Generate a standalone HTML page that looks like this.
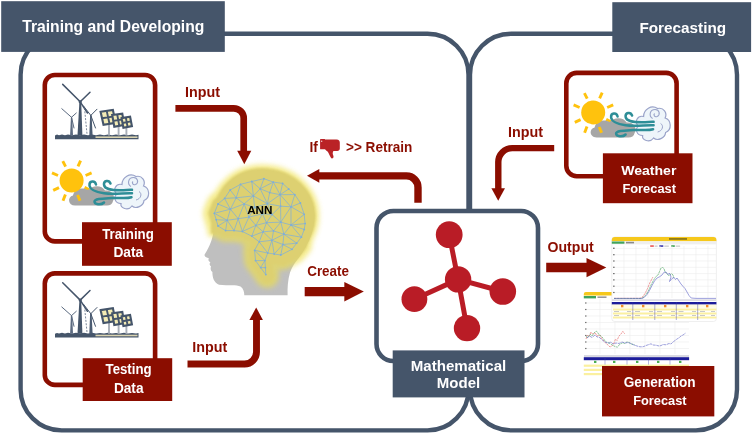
<!DOCTYPE html>
<html><head><meta charset="utf-8"><title>ANN forecasting workflow</title>
<style>
html,body{margin:0;padding:0;background:#fff;}
body{width:752px;height:433px;overflow:hidden;}
svg{display:block;}
text{font-family:"Liberation Sans",sans-serif;font-weight:bold;}
.red{fill:#8B0E04;}
.w{fill:#fff;}
</style></head>
<body>
<svg width="752" height="433" viewBox="0 0 752 433">
<defs>
  <filter id="soft" x="-5%" y="-5%" width="110%" height="110%"><feGaussianBlur stdDeviation="0.55"/></filter>
  <filter id="soft2" x="-10%" y="-10%" width="120%" height="120%"><feGaussianBlur stdDeviation="1.1"/></filter>
  <filter id="glow" x="-20%" y="-20%" width="140%" height="140%"><feGaussianBlur stdDeviation="2.8"/></filter>
  <g id="windsolar">
    <!-- ground -->
    <path d="M55 139.2 V135.4 L57 134.6 L59 135.3 L62 134.5 L65 135.2 L68 134.4 L72 135.2 L76 134.5 L80 135.2 L84 134.4 L88 135.2 L92 134.5 L96 135.2 L100 134.6 L104 135.2 L108 134.5 L112 135.2 L116 134.6 L120 135.2 L124 134.5 L128 135.2 L132 134.6 L136 135.2 L138.5 134.8 V139.2Z" fill="#44546A"/>
    <rect x="95.5" y="136.4" width="42" height="1.6" fill="#D9D3B0"/>
    <!-- big turbine -->
    <path d="M77.5 135.5 L79.4 101.8 L81.2 101.8 L82.4 135.5Z" fill="#44546A"/>
    <path d="M80.2 101.8 L62.7 84.4 M80.2 101.8 L90 92.2 M80.2 101.8 L87.5 113" stroke="#44546A" stroke-width="1.5" stroke-linecap="round" fill="none"/>
    <circle cx="80.2" cy="101.8" r="1.6" fill="#44546A"/>
    <!-- left turbine -->
    <path d="M70.1 135.5 L70.9 117.5 L72.2 117.5 L73 135.5Z" fill="#5B6A80"/>
    <path d="M71.5 117.3 L61.8 108.7 M71.5 117.3 L76.3 113 M71.5 117.3 L74 128" stroke="#5B6A80" stroke-width="1" stroke-linecap="round" fill="none"/>
    <!-- right turbine -->
    <path d="M89.3 135.5 L90.1 115.4 L91.6 115.4 L92.6 135.5Z" fill="#4C5B72"/>
    <path d="M90.8 115.4 L97 109.2 M90.8 115.4 L83.5 106 M90.8 115.4 L95.5 128" stroke="#44546A" stroke-width="1" stroke-linecap="round" fill="none"/>
    <path d="M84.5 108 L87 134" stroke="#5B6A80" stroke-width="0.8" stroke-dasharray="2 1.4" fill="none"/>
    <!-- solar posts -->
    <path d="M109 124 V135.5 M118.6 126 V135.5 M126.4 127 V135.5" stroke="#A9AFB8" stroke-width="1.9" fill="none"/>
    <!-- panels -->
    <path d="M100.6 111.8 L112.9 110 L115.6 122.8 L103.5 124.8Z" fill="#F3EBB4" stroke="#44546A" stroke-width="2.1"/>
    <path d="M106.7 110.9 L109.5 123.8 M102 118.3 L114.2 116.4" stroke="#44546A" stroke-width="1.9"/>
    <path d="M112.2 115 L122.3 113.7 L124.3 124.8 L114.3 126.8Z" fill="#F3EBB4" stroke="#44546A" stroke-width="2.1"/>
    <path d="M117.2 114.3 L119.3 125.8 M113.2 120.9 L123.3 119.2" stroke="#44546A" stroke-width="1.9"/>
    <path d="M121.6 118.1 L130.1 116.7 L131.9 126.1 L123.4 127.8Z" fill="#F3EBB4" stroke="#44546A" stroke-width="2.1"/>
    <path d="M125.8 117.4 L127.6 127 M122.5 123 L131 121.4" stroke="#44546A" stroke-width="1.9"/>
  </g>
  <g id="weather">
    <!-- sun rays -->
    <g stroke="#FFC20E" stroke-width="2.9" stroke-linecap="butt" fill="none">
      <path d="M62.8 161.2 L65.6 166.6"/><path d="M80.6 160.6 L78 166.4"/>
      <path d="M52 172.9 L58 175.5"/><path d="M91.6 172.9 L85.6 175.5"/>
      <path d="M53.2 190.4 L59 187.6"/><path d="M89.6 190 L84.6 187.4"/>
      <path d="M65.4 194.6 L63 200.8"/><path d="M77.4 194.6 L80 200.8"/>
    </g>
    <!-- gray cloud -->
    <path d="M75 205.5 C68 205.5 67 197 73 195.5 C74 189 83 186.5 88 190 C92 185 102 184.5 105 190.5 C112 189.5 116 196 113 201 C112.5 204 110 205.5 107 205.5Z" fill="#A6A6A6"/>
    <circle cx="71.6" cy="180.4" r="12" fill="#FFC20E"/>
    <path d="M77.6 195 L80 200.8" stroke="#FFC20E" stroke-width="2.9"/>
    <!-- wind cloud -->
    <path d="M117 194 C112 190 116 183 122 184.5 C122 177 130 172.5 136 176.5 C142 175 146 181 143.5 186 C150 188 150.5 198 144 200.5 C143.5 206 136 209.5 132 206 C128 211.5 120 208 121 203.5 C115 203.5 113 197 117 194Z" fill="#EEF5FA" stroke="#9AA3C9" stroke-width="1.2"/>
    <path d="M131 186.5 C127 184 128 177.5 133.5 177.5 C138 177.5 139 183 135.5 184.5 C133 185.5 131.5 183 133 181.5" fill="none" stroke="#9AA3C9" stroke-width="1.1"/>
    <path d="M136 200 C141 199 142.5 193.5 139 191.5" fill="none" stroke="#9AA3C9" stroke-width="1"/>
    <!-- teal swirls -->
    <g fill="none" stroke="#2F8E97" stroke-width="2.5" stroke-linecap="round">
      <path d="M96 184.5 C95 180 89 180.5 89.5 185.5 C90 190 96 192 104 193.2 C114 194.6 124 192.8 132 193.2"/>
      <path d="M110.5 183.5 C109 179.5 103.5 180.5 104 184.8 C104.5 189.5 112 190 120 190.2 C125 190.3 129 189.6 132 189.8"/>
      <path d="M104 202.5 C101 205.5 94.5 204.5 94.5 201.5 C94.5 198.5 104 198.5 112 198 C120 197.5 126 199 131.5 197.2"/>
    </g>
  </g>
</defs>
<rect width="752" height="433" fill="#fff"/>
<g filter="url(#soft)">
<!-- big frames -->
<rect x="20.6" y="33.8" width="447.9" height="396.6" rx="41" ry="41" fill="none" stroke="#44546A" stroke-width="4.4"/>
<rect x="470" y="33.8" width="267" height="396.6" rx="41" ry="41" fill="none" stroke="#44546A" stroke-width="4.4"/>
<!-- headers -->
<rect x="1.2" y="1.2" width="223.6" height="50.7" fill="#44546A"/>
<rect x="612.3" y="2.2" width="138.8" height="49.8" fill="#44546A"/>
<text x="22.2" y="32.2" font-size="15.7" class="w">Training and Developing</text>
<text x="639.4" y="32.6" font-size="15.3" class="w">Forecasting</text>

<!-- Training data box -->
<rect x="44.8" y="75" width="110.3" height="166.4" rx="10" fill="#fff" stroke="#8B0E04" stroke-width="4.6"/>
<use href="#windsolar"/>
<use href="#weather"/>
<rect x="82" y="222.2" width="89.8" height="43.6" fill="#8B0E04"/>
<text x="102.2" y="239" font-size="13.8" textLength="51.6" lengthAdjust="spacingAndGlyphs" class="w">Training</text>
<text x="113.4" y="257.3" font-size="13.8" textLength="29.8" lengthAdjust="spacingAndGlyphs" class="w">Data</text>

<!-- Testing data box -->
<rect x="44.8" y="273.4" width="110.3" height="111.5" rx="10" fill="#fff" stroke="#8B0E04" stroke-width="4.6"/>
<use href="#windsolar" transform="translate(0,198.3)"/>
<rect x="82.7" y="358.2" width="89.5" height="42.8" fill="#8B0E04"/>
<text x="105.6" y="374" font-size="13.8" textLength="46" lengthAdjust="spacingAndGlyphs" class="w">Testing</text>
<text x="113.9" y="392.8" font-size="13.8" textLength="29.6" lengthAdjust="spacingAndGlyphs" class="w">Data</text>

<!-- Weather forecast box -->
<rect x="566.3" y="72.9" width="110.3" height="103.4" rx="10.5" fill="#fff" stroke="#8B0E04" stroke-width="4.6"/>
<use href="#weather" transform="translate(521.6,-68)"/>
<rect x="602.9" y="153.3" width="89.6" height="49.9" fill="#8B0E04"/>
<text x="621.2" y="174.7" font-size="13.6" textLength="55.2" lengthAdjust="spacingAndGlyphs" class="w">Weather</text>
<text x="622.4" y="193.2" font-size="13.4" textLength="53.6" lengthAdjust="spacingAndGlyphs" class="w">Forecast</text>

<!-- Model box -->
<rect x="376.5" y="211" width="161.5" height="150" rx="17" fill="#fff" stroke="#44546A" stroke-width="4.6"/>
<rect x="392.7" y="350.4" width="131.8" height="47" fill="#44546A"/>
<text x="458.5" y="370.9" font-size="15.1" text-anchor="middle" class="w">Mathematical</text>
<text x="458.5" y="388.4" font-size="15" text-anchor="middle" class="w">Model</text>
<!-- molecule -->
<g stroke="#B91F26" stroke-width="5" fill="#B91F26">
  <path d="M458.1 279.4 L449.2 234.7 M458.1 279.4 L414.4 299.2 M458.1 279.4 L502.8 291.5 M458.1 279.4 L467 328.1" fill="none"/>
  <g stroke="none">
  <circle cx="458.1" cy="279.4" r="13.2"/><circle cx="449.2" cy="234.7" r="13.4"/>
  <circle cx="414.4" cy="299.2" r="12.9"/><circle cx="502.8" cy="291.5" r="13.3"/>
  <circle cx="467" cy="328.1" r="13.2"/></g>
</g>


<!-- output charts -->
<g id="chart2">
  <rect x="583.8" y="292" width="105.3" height="84" fill="#fff"/>
  <path d="M583.8 295.5 V294 Q583.8 292 585.8 292 H612 V295.5Z" fill="#F6C81A"/>
  <rect x="583.8" y="296" width="12.2" height="2.4" fill="#3FA45B"/>
  <rect x="597.5" y="296.4" width="9" height="1.6" fill="#9A9A9A"/>
  <g stroke="#ECECEC" stroke-width="0.6">
    <path d="M586 303 H689 M586 309.5 H689 M586 316 H689 M586 322.5 H689 M586 329 H689 M586 335.5 H689 M586 342 H689 M586 348.5 H689"/>
    <path d="M600 299 V354 M615 299 V354 M630 299 V354 M645 299 V354 M660 299 V354 M675 299 V354"/>
  </g>
  <g fill="#555"><rect x="585.2" y="302.4" width="1.2" height="1.2"/><rect x="585.2" y="308.9" width="1.2" height="1.2"/><rect x="585.2" y="315.4" width="1.2" height="1.2"/><rect x="585.2" y="321.9" width="1.2" height="1.2"/><rect x="585.2" y="328.4" width="1.2" height="1.2"/><rect x="585.2" y="334.9" width="1.2" height="1.2"/><rect x="585.2" y="341.4" width="1.2" height="1.2"/><rect x="585.2" y="347.9" width="1.2" height="1.2"/></g>
  <g fill="none" stroke-width="0.65" stroke-linejoin="round" opacity="0.9">
    <path d="M586 339 L587.5 335 L589 336.5 L591 332 L593 334.5 L595 332.5 L597 336 L600 335 L602 339 L604 341 L606 343.5 L608 345 L610 347 L612 346 L614 343 L615.5 339 L617 340.5 L619 336 L621 334 L622.8 331.3 L624 333 L625 334" stroke="#E3595B" stroke-dasharray="2.2 0.8"/>
    <path d="M586 336.5 L588 337.5 L590 334 L592 336 L594 333 L596 331 L597.5 332 L599 335 L601 336 L603 338 L605 341 L607 342.5 L609 343 L611 344 L613 345.5 L615 346.5 L617.5 347.2 L619 345 L621 343.5 L623 342.8 L625 343.5 L627 341.8 L629 342.5 L631 343.8 L633 344.5 L634.8 345" stroke="#3F9F55" stroke-dasharray="2.2 0.8"/>
    <path d="M587 338 L589.5 336 L592 337.5 L595 335 L597 337 L599 337 L601 339 L603.5 341 L606 342.5 L609 343 L611 342 L613 344 L616 343 L619 343.5 L622 342 L625 343 L628 342.5 L631 343.5 L634 345 L637 346 L640 346.8 L643 346.8 L646 345.5 L649 344.5 L651 343.8 L653 345 L656 345.2 L659 346 L661 345.6 L663 344.5 L666 344.8 L669 343.5 L671 344 L673 342 L675 340.5 L677 339 L679 337.8 L681 336 L683 335 L685.7 333" stroke="#5A5FC4" stroke-dasharray="3 0.7"/>
  </g>
  <rect x="584" y="355.3" width="105" height="1.4" fill="#C9C9D6"/>
  <rect x="583.8" y="357.2" width="105.3" height="3" fill="#1B1B9A"/>
  <g fill="#4CAF50"><rect x="594" y="360.8" width="2.4" height="2.2"/><rect x="613" y="360.8" width="2.4" height="2.2"/><rect x="636" y="360.8" width="2.4" height="2.2"/><rect x="657" y="360.8" width="2.4" height="2.2"/><rect x="679" y="360.8" width="2.4" height="2.2"/></g>
  <g stroke="#3A3AA8" stroke-width="0.45" opacity="0.8"><path d="M605 357 V366 M627 357 V366 M648.5 357 V366 M670 357 V366"/></g>
  <rect x="583.8" y="364.6" width="105.3" height="2.2" fill="#FBF0A0"/>
  <rect x="583.8" y="368.8" width="20" height="2.2" fill="#FBF0A0"/>
  <rect x="583.8" y="373" width="20" height="2.2" fill="#FBF0A0"/>
</g>
<g id="chart1">
  <rect x="611.8" y="237" width="104.6" height="84.5" rx="3" fill="#fff" stroke="#E4E4E4" stroke-width="0.6"/>
  <path d="M611.8 241.2 V240 Q611.8 237 614.8 237 H713.4 Q716.4 237 716.4 240 V241.2Z" fill="#F6C81A"/>
  <rect x="669" y="238.2" width="18" height="1.5" fill="#7A6A1A"/>
  <rect x="611.8" y="241.4" width="104.6" height="3" fill="#EFEFEF"/>
  <rect x="611.8" y="241.5" width="12.6" height="2.2" fill="#3FA45B"/>
  <rect x="626" y="241.8" width="8" height="1.6" fill="#8A8A8A"/>
  <rect x="650.2" y="245.3" width="3.6" height="1.5" fill="#E84A4A"/><rect x="654.6" y="245.6" width="3" height="1" fill="#BBB"/>
  <rect x="659.3" y="245.3" width="4" height="1.5" fill="#2A2AA8"/><rect x="664.3" y="245.6" width="4.5" height="1" fill="#BBB"/>
  <rect x="671.2" y="245.3" width="3.6" height="1.5" fill="#2F9A46"/><rect x="675.6" y="245.6" width="4.5" height="1" fill="#BBB"/>
  <g stroke="#ECECEC" stroke-width="0.6">
    <path d="M614 248.4 H716 M614 254.7 H716 M614 261 H716 M614 267.3 H716 M614 273.6 H716 M614 279.9 H716 M614 286.2 H716 M614 292.5 H716"/>
    <path d="M624 246 V298 M636 246 V298 M648 246 V298 M660 246 V298 M672 246 V298 M684 246 V298 M696 246 V298 M708 246 V298"/>
  </g>
  <g fill="#555"><rect x="613.2" y="247.6" width="1.3" height="1.4"/><rect x="613.2" y="254.1" width="1.3" height="1.2"/><rect x="613.2" y="260.4" width="1.3" height="1.2"/><rect x="613.2" y="266.7" width="1.3" height="1.2"/><rect x="613.2" y="273" width="1.3" height="1.2"/><rect x="613.2" y="279.3" width="1.3" height="1.2"/><rect x="613.2" y="285.6" width="1.3" height="1.2"/><rect x="613.2" y="291.9" width="1.3" height="1.2"/></g>
  <g fill="none" stroke-width="0.65" stroke-linejoin="round" opacity="0.9">
    <path d="M614 298.3 H640 L642.5 297 L645 293.5 L647.5 288.5 L650 282.5 L652.9 277.1" stroke="#E3595B" stroke-dasharray="2.5 0.6"/>
    <path d="M614 298.5 H641.5 L644 297 L646.5 294 L649 289.5 L651.5 284 L654 279.5 L656 276.5 L658 275 L659.5 271.5 L661 268 L662.5 267.4 L664 268.5 L665 272 L667 273.5 L668.5 275.5 L670 275 L671.5 273.6 L673 275 L674 278" stroke="#3F9F55" stroke-dasharray="2.5 0.6"/>
    <path d="M614 298.4 H642 L644.5 297.2 L647 294.5 L649.5 290.5 L652 285.5 L654.5 281 L657 278 L659.5 276.8 L662 275 L664 272.2 L666 272 L668 274.5 L669.5 273 L671 277 L669.5 281.5 L672 278.5 L674 277.5 L675.5 279.5 L677 278 L679 281 L681 284 L683.2 286.6 L685 288.5 L687 292 L689 295.5 L691.2 298 L696 298.4 H716" stroke="#5A5FC4"/>
  </g>
  <rect x="612" y="299.4" width="104" height="1.4" fill="#D5D5DF"/>
  <rect x="611.8" y="302" width="104.6" height="2.6" fill="#1B1B9A"/>
  <rect x="611.8" y="304.6" width="104.6" height="3.2" fill="#FFFBE0"/>
  <g fill="#F28C28"><rect x="621" y="304.9" width="2.4" height="2.4"/><rect x="642" y="304.9" width="2.4" height="2.4"/><rect x="664" y="304.9" width="2.4" height="2.4"/><rect x="686" y="304.9" width="2.4" height="2.4"/><rect x="706" y="304.9" width="2.4" height="2.4"/></g>
  <rect x="613" y="308.5" width="103.4" height="2" fill="#FBF0A0"/>
  <rect x="613" y="312.5" width="103.4" height="2" fill="#FBF0A0"/>
  <rect x="613" y="316.5" width="103.4" height="2" fill="#FBF0A0"/>
  <g fill="#9A9A9A" opacity="0.75"><rect x="614" y="311" width="5" height="0.7"/><rect x="627" y="311" width="4" height="0.7"/><rect x="635" y="311" width="5" height="0.7"/><rect x="649" y="311" width="4" height="0.7"/><rect x="657" y="311" width="5" height="0.7"/><rect x="671" y="311" width="4" height="0.7"/><rect x="678.5" y="311" width="5" height="0.7"/><rect x="692" y="311" width="4" height="0.7"/><rect x="700" y="311" width="5" height="0.7"/><rect x="711" y="311" width="4" height="0.7"/>
  <rect x="614" y="315" width="5" height="0.7"/><rect x="627" y="315" width="4" height="0.7"/><rect x="635" y="315" width="5" height="0.7"/><rect x="649" y="315" width="4" height="0.7"/><rect x="657" y="315" width="5" height="0.7"/><rect x="671" y="315" width="4" height="0.7"/><rect x="678.5" y="315" width="5" height="0.7"/><rect x="692" y="315" width="4" height="0.7"/><rect x="700" y="315" width="5" height="0.7"/><rect x="711" y="315" width="4" height="0.7"/></g>
  <g stroke="#3A3AA8" stroke-width="0.5" opacity="0.85"><path d="M632.8 302 V320 M654.8 302 V320 M676.3 302 V320 M697.7 302 V320"/></g>
</g>
<rect x="602" y="366" width="112.3" height="50.4" fill="#8B0E04"/>
<text x="623.8" y="387.1" font-size="14.3" textLength="71.8" lengthAdjust="spacingAndGlyphs" class="w">Generation</text>
<text x="633.2" y="405.4" font-size="13.6" textLength="53.4" lengthAdjust="spacingAndGlyphs" class="w">Forecast</text>

<!-- arrows -->
<g fill="none" stroke="#8B0E04" stroke-linejoin="round">
  <path d="M175.4 108.3 H233.7 A10 10 0 0 1 243.7 118.3 V151.5" stroke-width="6.7"/>
  <path d="M187.5 364 H244.5 A12 12 0 0 0 256.5 352 V319.5" stroke-width="6.9"/>
  <path d="M554.2 148.1 H512.3 A14 14 0 0 0 498.3 162.1 V189" stroke-width="6.4"/>
  <path d="M418 202.8 V187.4 A11.5 11.5 0 0 0 406.5 175.9 H318.5" stroke-width="7.4"/>
  <path d="M304.7 291.6 H345" stroke-width="9.3"/>
  <path d="M546.2 267.5 H587" stroke-width="9.3"/>
</g>
<g class="red">
  <path d="M237.2 150.7 H251.3 L244.3 164.2Z"/>
  <path d="M249.4 320 H262.9 L256.2 307.6Z"/>
  <path d="M491.4 188.2 H505 L498.2 200.7Z"/>
  <path d="M319.3 168.9 V182.8 L307 175.8Z"/>
  <path d="M344.3 281.9 V301.4 L363.8 291.6Z"/>
  <path d="M586.5 258 V277.2 L606.3 267.6Z"/>
</g>
<!-- arrow labels -->
<text x="185.1" y="96.7" font-size="14.4" textLength="35" lengthAdjust="spacingAndGlyphs" class="red">Input</text>
<text x="192.3" y="351.7" font-size="14.4" textLength="35" lengthAdjust="spacingAndGlyphs" class="red">Input</text>
<text x="508.1" y="136.9" font-size="14.4" textLength="35" lengthAdjust="spacingAndGlyphs" class="red">Input</text>
<text x="307.2" y="275.6" font-size="14.4" textLength="41.8" lengthAdjust="spacingAndGlyphs" class="red">Create</text>
<text x="547.5" y="251.7" font-size="14.6" textLength="46.2" lengthAdjust="spacingAndGlyphs" class="red">Output</text>
<text x="309.4" y="152.3" font-size="14.2" textLength="8.4" lengthAdjust="spacingAndGlyphs" class="red">If</text>
<text x="346" y="152.3" font-size="14.2" textLength="66.4" lengthAdjust="spacingAndGlyphs" class="red">&gt;&gt; Retrain</text>
<!-- thumbs down -->
<g fill="#BA2027">
  <path d="M320.1 139.4 Q320.1 139 320.5 139 H324.9 V139.4 H336.6 C338.8 139.4 339.9 140.8 339.8 142.6 V148.4 C339.8 150 338.8 150.9 337.2 150.9 H333.4 C332.6 152.4 332.6 153.6 333 154.8 C333.6 156.2 333.8 157.4 333 158.1 C332.2 158.7 331.2 158.5 330.8 157.4 C329.6 155.6 328.8 153.4 327.8 151.8 C326.4 150.8 325.8 150 324.9 149.3 H320.5 Q320.1 149.3 320.1 148.9Z"/>
  <circle cx="321.7" cy="141.3" r="0.7" fill="#F6D5D5"/>
</g>

<!-- head -->
<path d="M213.5 232 C212 240 210 246 204.6 254.5 C204.2 256.2 205.6 257.4 208.8 258.2 C208 260 208.6 261.4 210.4 262.2 C209.2 263.6 209.4 265.2 211 266.2 C210.2 268.6 210.6 270.6 212.4 272 C212.4 277 213.6 282.6 219 284.8 C227 286 236 284 240.5 286.5 C243.5 288.6 244.2 292 244.3 295.3 H287.6 C287.4 288 287.8 280 290 272.6 C292 267 294.5 263.5 296.8 260.5 C300 256.5 302.5 252.5 304 250 C308 243 314.5 232 314.5 216 C314.5 190 290 170 262 170 C232 170 211 192 213.5 232Z" fill="#BFBFBF"/>
<!-- brain glow -->
<g filter="url(#glow)" opacity="0.62" fill="#EFE04A" stroke="#EFE04A" stroke-linejoin="round" stroke-linecap="round">
<polygon points="214.3,213.3 218.0,204.0 224.6,198.4 230.2,190.0 240.5,184.3 251.8,181.5 263.9,178.7 273.3,182.1 282.6,183.4 294.8,194.6 300.4,203.0 304.2,214.3 305.1,223.6 304.2,229.5 301.4,237.2 292.0,249.3 280.8,255.0 267.7,253.0 264.9,260.6 265.8,274.6 255.5,260.6 254.6,250.3 259.2,241.8 251.8,236.2 242.4,231.5 234.0,230.6 225.6,230.6 218.0,226.0" stroke-width="23"/>
<path d="M211.5 233 C209 192 232 168.6 262 168.6 C291.5 168.6 315.2 189 315.2 216 C315.2 224 313.5 230 310.5 236 C308 243 305 249 301 253 L290 252 L260 236 L225 233 Z" stroke-width="8"/>
<path d="M268 256 L283 258 L294 252 L300 245 M265 262 L267 276" stroke-width="24" fill="none"/>
</g>
<g filter="url(#soft2)" fill="#DDD071" stroke="#DDD071" stroke-linejoin="round" stroke-linecap="round">
<polygon points="214.3,213.3 218.0,204.0 224.6,198.4 230.2,190.0 240.5,184.3 251.8,181.5 263.9,178.7 273.3,182.1 282.6,183.4 294.8,194.6 300.4,203.0 304.2,214.3 305.1,223.6 304.2,229.5 301.4,237.2 292.0,249.3 280.8,255.0 267.7,253.0 264.9,260.6 265.8,274.6 255.5,260.6 254.6,250.3 259.2,241.8 251.8,236.2 242.4,231.5 234.0,230.6 225.6,230.6 218.0,226.0" stroke-width="12"/>
<path d="M211.5 233 C209 192 232 168.6 262 168.6 C291.5 168.6 315.2 189 315.2 216 C315.2 224 313.5 230 310.5 236 C308 243 305 249 301 253 L290 252 L260 236 L225 233 Z" stroke-width="1"/>
<path d="M268 256 L283 258 L294 252 L300 245 M265 262 L267 276" stroke-width="14" fill="none"/>
</g>
<!-- brain mesh -->
<path d="M214.3 213.3L218.0 204.0M214.3 213.3L216.2 219.7M214.3 213.3L227.2 220.3M214.3 213.3L230.4 209.2M218.0 204.0L224.6 198.4M218.0 204.0L230.4 209.2M224.6 198.4L230.2 190.0M224.6 198.4L230.4 209.2M224.6 198.4L236.2 197.8M230.2 190.0L240.5 184.3M230.2 190.0L236.2 197.8M240.5 184.3L251.8 181.5M240.5 184.3L253.4 195.9M240.5 184.3L236.2 197.8M251.8 181.5L263.9 178.7M251.8 181.5L253.4 195.9M251.8 181.5L260.2 188.8M263.9 178.7L273.3 182.1M263.9 178.7L260.2 188.8M273.3 182.1L282.6 183.4M273.3 182.1L269.7 192.6M273.3 182.1L280.1 194.7M273.3 182.1L260.2 188.8M282.6 183.4L288.7 189.0M282.6 183.4L280.1 194.7M294.8 194.6L300.4 203.0M294.8 194.6L288.7 189.0M294.8 194.6L280.1 194.7M294.8 194.6L291.0 206.8M300.4 203.0L304.2 214.3M300.4 203.0L291.0 206.8M304.2 214.3L305.1 223.6M304.2 214.3L291.0 225.0M304.2 214.3L291.0 206.8M305.1 223.6L304.2 229.5M305.1 223.6L291.0 225.0M304.2 229.5L301.4 237.2M304.2 229.5L291.0 225.0M301.4 237.2L296.7 243.2M301.4 237.2L283.9 234.2M301.4 237.2L291.0 225.0M292.0 249.3L280.8 255.0M292.0 249.3L296.7 243.2M292.0 249.3L282.9 244.5M280.8 255.0L274.2 254.0M280.8 255.0L282.9 244.5M267.7 253.0L264.9 260.6M267.7 253.0L254.6 250.3M267.7 253.0L259.2 241.8M267.7 253.0L274.2 254.0M267.7 253.0L271.9 240.3M264.9 260.6L255.5 260.6M264.9 260.6L254.6 250.3M264.9 260.6L265.4 267.6M264.9 260.6L260.6 267.6M265.8 274.6L265.4 267.6M265.8 274.6L260.6 267.6M255.5 260.6L254.6 250.3M255.5 260.6L260.6 267.6M254.6 250.3L259.2 241.8M259.2 241.8L251.8 236.2M259.2 241.8L271.9 240.3M259.2 241.8L263.1 231.8M251.8 236.2L242.4 231.5M251.8 236.2L255.8 225.4M251.8 236.2L263.1 231.8M242.4 231.5L234.0 230.6M242.4 231.5L238.2 218.7M242.4 231.5L248.9 217.1M242.4 231.5L255.8 225.4M234.0 230.6L225.6 230.6M234.0 230.6L238.2 218.7M234.0 230.6L227.2 220.3M225.6 230.6L218.0 226.0M225.6 230.6L227.2 220.3M218.0 226.0L216.2 219.7M218.0 226.0L227.2 220.3M288.7 189.0L280.1 194.7M296.7 243.2L283.9 234.2M296.7 243.2L282.9 244.5M274.2 254.0L271.9 240.3M274.2 254.0L282.9 244.5M265.4 267.6L260.6 267.6M216.2 219.7L227.2 220.3M262.4 213.8L272.1 214.5M262.4 213.8L254.6 207.4M262.4 213.8L266.5 222.7M262.4 213.8L267.4 203.7M262.4 213.8L248.9 217.1M262.4 213.8L255.8 225.4M272.1 214.5L280.6 206.2M272.1 214.5L266.5 222.7M272.1 214.5L267.4 203.7M272.1 214.5L280.8 222.2M254.6 207.4L267.4 203.7M254.6 207.4L248.9 217.1M254.6 207.4L244.2 203.9M254.6 207.4L253.4 195.9M280.6 206.2L267.4 203.7M280.6 206.2L280.1 194.7M280.6 206.2L280.8 222.2M280.6 206.2L291.0 206.8M283.9 234.2L291.0 225.0M283.9 234.2L280.8 222.2M283.9 234.2L271.9 240.3M283.9 234.2L282.9 244.5M283.9 234.2L273.5 230.9M266.5 222.7L255.8 225.4M266.5 222.7L280.8 222.2M266.5 222.7L263.1 231.8M266.5 222.7L273.5 230.9M238.2 218.7L248.9 217.1M238.2 218.7L244.2 203.9M238.2 218.7L227.2 220.3M238.2 218.7L230.4 209.2M267.4 203.7L269.7 192.6M267.4 203.7L280.1 194.7M267.4 203.7L253.4 195.9M267.4 203.7L260.2 188.8M248.9 217.1L255.8 225.4M248.9 217.1L244.2 203.9M269.7 192.6L280.1 194.7M269.7 192.6L260.2 188.8M255.8 225.4L263.1 231.8M244.2 203.9L253.4 195.9M244.2 203.9L230.4 209.2M244.2 203.9L236.2 197.8M291.0 225.0L280.8 222.2M291.0 225.0L291.0 206.8M280.1 194.7L291.0 206.8M253.4 195.9L236.2 197.8M253.4 195.9L260.2 188.8M227.2 220.3L230.4 209.2M230.4 209.2L236.2 197.8M280.8 222.2L291.0 206.8M280.8 222.2L273.5 230.9M271.9 240.3L263.1 231.8M271.9 240.3L282.9 244.5M271.9 240.3L273.5 230.9M263.1 231.8L273.5 230.9" fill="none" stroke="#7DAEDB" stroke-width="0.7"/>
<g fill="#7DAEDB"><circle cx="214.3" cy="213.3" r="0.9"/><circle cx="218.0" cy="204.0" r="0.9"/><circle cx="224.6" cy="198.4" r="0.9"/><circle cx="230.2" cy="190.0" r="0.9"/><circle cx="240.5" cy="184.3" r="0.9"/><circle cx="251.8" cy="181.5" r="0.9"/><circle cx="263.9" cy="178.7" r="0.9"/><circle cx="273.3" cy="182.1" r="0.9"/><circle cx="282.6" cy="183.4" r="0.9"/><circle cx="294.8" cy="194.6" r="0.9"/><circle cx="300.4" cy="203.0" r="0.9"/><circle cx="304.2" cy="214.3" r="0.9"/><circle cx="305.1" cy="223.6" r="0.9"/><circle cx="304.2" cy="229.5" r="0.9"/><circle cx="301.4" cy="237.2" r="0.9"/><circle cx="292.0" cy="249.3" r="0.9"/><circle cx="280.8" cy="255.0" r="0.9"/><circle cx="267.7" cy="253.0" r="0.9"/><circle cx="264.9" cy="260.6" r="0.9"/><circle cx="265.8" cy="274.6" r="0.9"/><circle cx="255.5" cy="260.6" r="0.9"/><circle cx="254.6" cy="250.3" r="0.9"/><circle cx="259.2" cy="241.8" r="0.9"/><circle cx="251.8" cy="236.2" r="0.9"/><circle cx="242.4" cy="231.5" r="0.9"/><circle cx="234.0" cy="230.6" r="0.9"/><circle cx="225.6" cy="230.6" r="0.9"/><circle cx="218.0" cy="226.0" r="0.9"/><circle cx="288.7" cy="189.0" r="0.9"/><circle cx="296.7" cy="243.2" r="0.9"/><circle cx="274.2" cy="254.0" r="0.9"/><circle cx="265.4" cy="267.6" r="0.9"/><circle cx="260.6" cy="267.6" r="0.9"/><circle cx="216.2" cy="219.7" r="0.9"/><circle cx="262.4" cy="213.8" r="0.9"/><circle cx="272.1" cy="214.5" r="0.9"/><circle cx="254.6" cy="207.4" r="0.9"/><circle cx="280.6" cy="206.2" r="0.9"/><circle cx="283.9" cy="234.2" r="0.9"/><circle cx="266.5" cy="222.7" r="0.9"/><circle cx="238.2" cy="218.7" r="0.9"/><circle cx="267.4" cy="203.7" r="0.9"/><circle cx="248.9" cy="217.1" r="0.9"/><circle cx="269.7" cy="192.6" r="0.9"/><circle cx="255.8" cy="225.4" r="0.9"/><circle cx="244.2" cy="203.9" r="0.9"/><circle cx="291.0" cy="225.0" r="0.9"/><circle cx="280.1" cy="194.7" r="0.9"/><circle cx="253.4" cy="195.9" r="0.9"/><circle cx="227.2" cy="220.3" r="0.9"/><circle cx="230.4" cy="209.2" r="0.9"/><circle cx="280.8" cy="222.2" r="0.9"/><circle cx="291.0" cy="206.8" r="0.9"/><circle cx="271.9" cy="240.3" r="0.9"/><circle cx="236.2" cy="197.8" r="0.9"/><circle cx="260.2" cy="188.8" r="0.9"/><circle cx="263.1" cy="231.8" r="0.9"/><circle cx="282.9" cy="244.5" r="0.9"/><circle cx="273.5" cy="230.9" r="0.9"/></g>
<text x="259.8" y="213.9" font-size="11.7" text-anchor="middle" fill="#000">ANN</text>
</g>
</svg>
</body></html>
